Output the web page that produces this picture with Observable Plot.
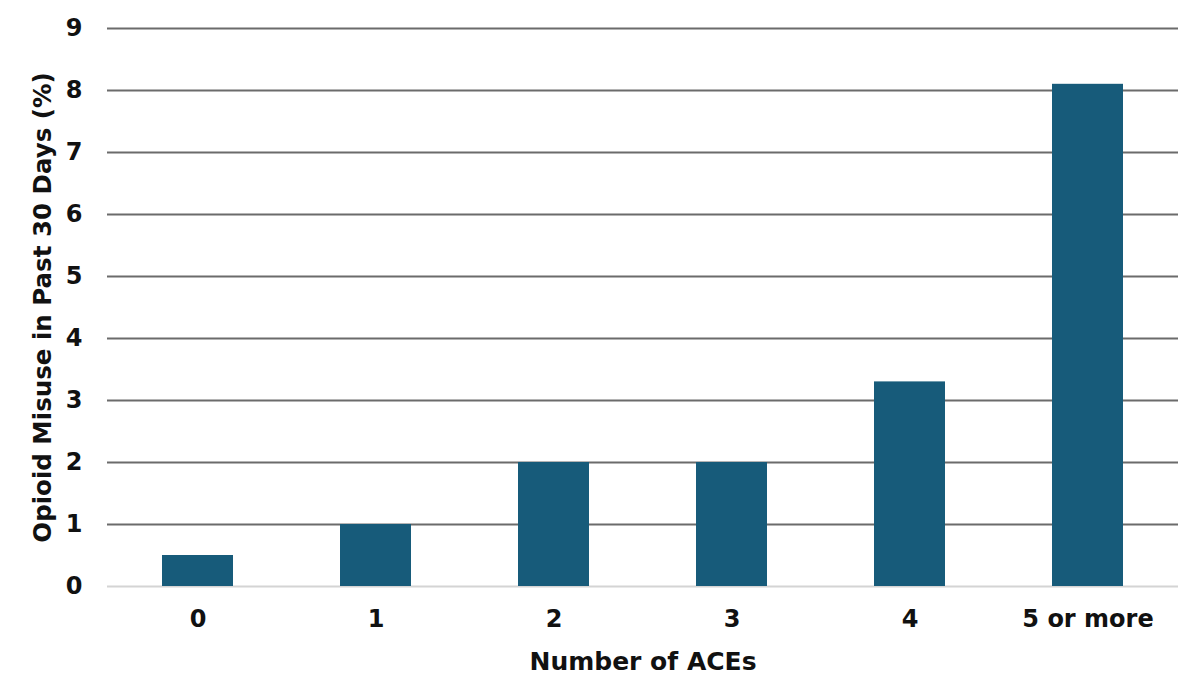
<!DOCTYPE html>
<html>
<head>
<meta charset="utf-8">
<script src="https://cdn.jsdelivr.net/npm/d3@7"></script>
<script src="https://cdn.jsdelivr.net/npm/@observablehq/plot@0.6"></script>
<style>
  html, body { margin: 0; padding: 0; background: #fff; }
</style>
</head>
<body>
<div id="chart"></div>
<script>
const categories = ["0", "1", "2", "3", "4", "5 or more"];
const values = [0.5, 1.0, 2.0, 2.0, 3.3, 8.1];
const yTicks = [0, 1, 2, 3, 4, 5, 6, 7, 8, 9];
const gridTicks = [1, 2, 3, 4, 5, 6, 7, 8, 9];

const data = categories.map((c, i) => ({ace: c, value: values[i]}));
const FONT = "'DejaVu Sans', sans-serif";

const chart = Plot.plot({
  width: 1200,
  height: 689,
  marginLeft: 107,
  marginRight: 22,
  marginTop: 28,
  marginBottom: 103,
  style: { fontFamily: FONT, fontWeight: "bold", fontSize: "24px", color: "#111", background: "#fff" },
  x: { domain: categories, paddingInner: 0.6, paddingOuter: 0.3, label: null },
  y: { domain: [0, 9], label: null },
  marks: [
    Plot.ruleY(gridTicks, { stroke: "#6b6b6b", strokeWidth: 2 }),
    Plot.ruleY([0], { stroke: "#d4d4d4", strokeWidth: 2 }),
    Plot.barY(data, { x: "ace", y: "value", fill: "#175b7a" }),
    Plot.axisY(yTicks, { tickSize: 0, tickPadding: 25, tickFormat: "d", fontSize: 24, fontWeight: "bold", fill: "#111",
      label: null }),
    Plot.axisY({ ticks: [], tickSize: 0, fontSize: 24.5, fontWeight: "bold", fill: "#111",
      label: "Opioid Misuse in Past 30 Days (%)", labelAnchor: "center", labelArrow: "none", labelOffset: 74 }),
    Plot.axisX({ tickSize: 0, tickPadding: 23, fontSize: 24, fontWeight: "bold", fill: "#111",
      label: null }),
    Plot.axisX({ ticks: [], tickSize: 0, fontSize: 25, fontWeight: "bold", fill: "#111",
      label: "Number of ACEs", labelAnchor: "center", labelArrow: "none", labelOffset: 83 })
  ]
});
document.getElementById("chart").appendChild(chart);
</script>
</body>
</html>
